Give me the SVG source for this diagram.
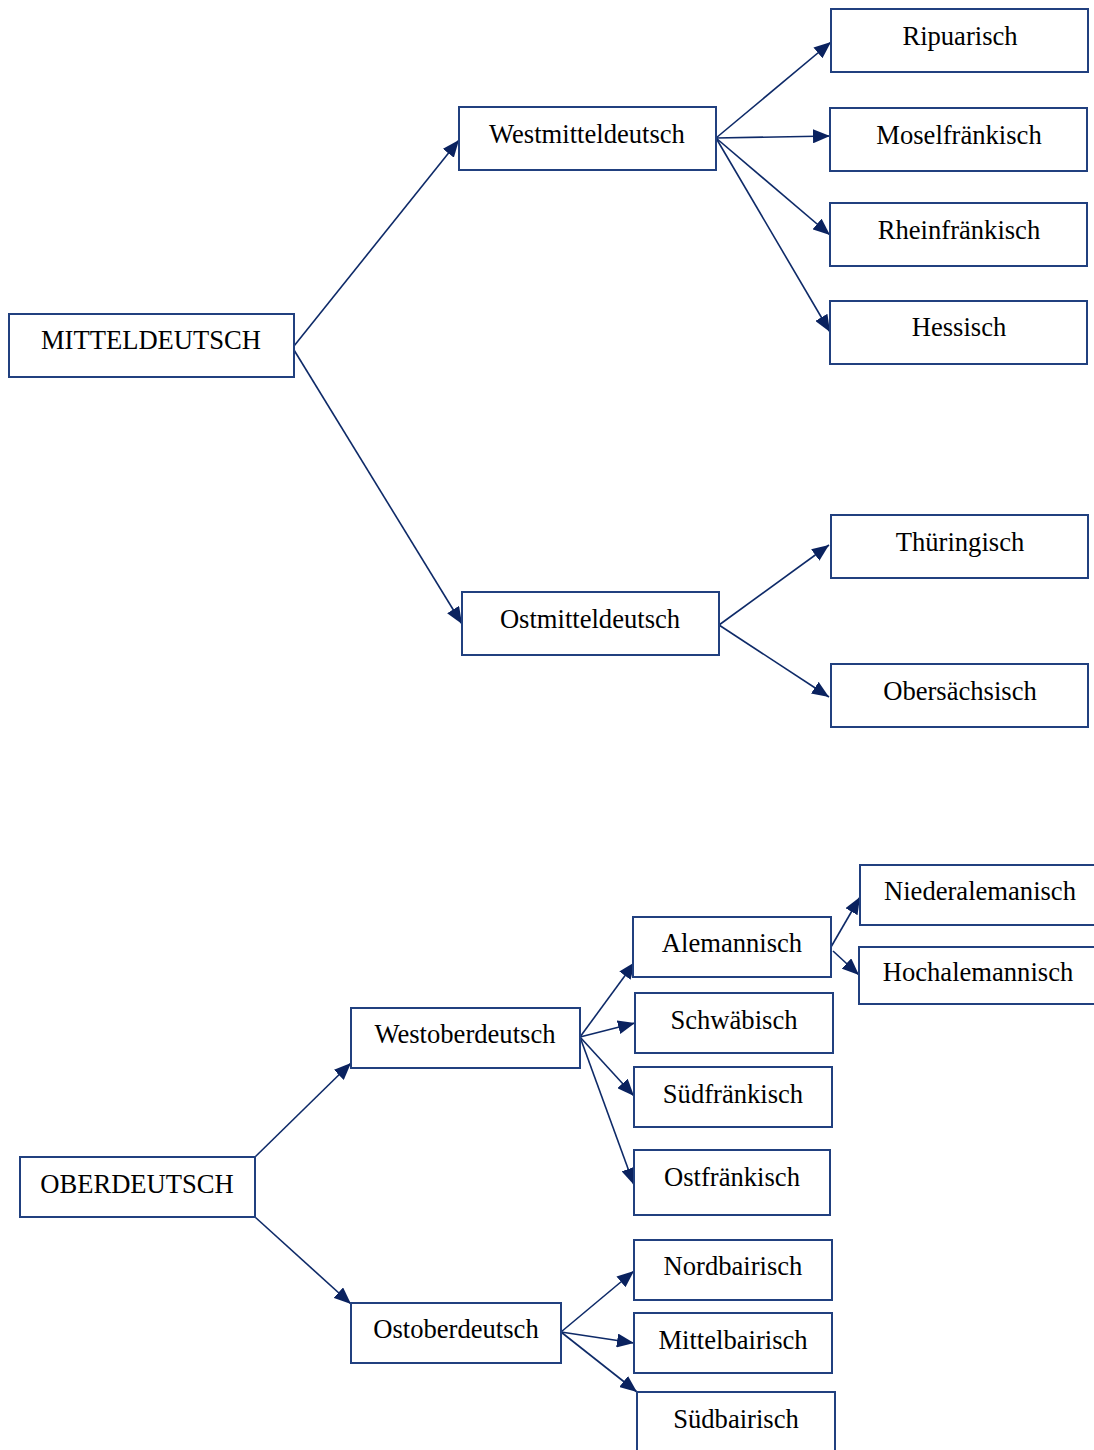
<svg xmlns="http://www.w3.org/2000/svg" width="1094" height="1450" viewBox="0 0 1094 1450">
<style>
.box{fill:#fff;stroke:#21407f;stroke-width:2}
.lbl{font-family:"Liberation Serif","Times New Roman",serif;font-size:26.6px;fill:#000;text-anchor:middle}
.ln{stroke:#0e2a68;stroke-width:1.6;fill:none;marker-end:url(#ah)}
</style>
<defs>
<marker id="ah" markerUnits="userSpaceOnUse" markerWidth="19" markerHeight="14" refX="17" refY="7" orient="auto">
<path d="M0,0 L17,7 L0,14 Z" fill="#0a225f"/>
</marker>
</defs>
<rect width="1094" height="1450" fill="#fff"/>
<g id="connectors">
<line class="ln" x1="294" y1="346" x2="459" y2="140"/>
<line class="ln" x1="294" y1="350" x2="462" y2="624"/>
<line class="ln" x1="716" y1="138" x2="831" y2="42"/>
<line class="ln" x1="716" y1="138" x2="830" y2="136"/>
<line class="ln" x1="716" y1="138" x2="830" y2="235"/>
<line class="ln" x1="716" y1="138" x2="830" y2="332"/>
<line class="ln" x1="719" y1="625" x2="829" y2="545"/>
<line class="ln" x1="719" y1="625" x2="829" y2="697"/>
<line class="ln" x1="255" y1="1157" x2="351" y2="1063"/>
<line class="ln" x1="255" y1="1217" x2="351" y2="1304"/>
<line class="ln" x1="580" y1="1037" x2="635" y2="962"/>
<line class="ln" x1="580" y1="1037" x2="635" y2="1023"/>
<line class="ln" x1="580" y1="1037" x2="634" y2="1096"/>
<line class="ln" x1="580" y1="1037" x2="634" y2="1185"/>
<line class="ln" x1="831" y1="947" x2="860" y2="897"/>
<line class="ln" x1="833" y1="951" x2="859" y2="975"/>
<line class="ln" x1="561" y1="1332" x2="634" y2="1271"/>
<line class="ln" x1="561" y1="1332" x2="634" y2="1343"/>
<line class="ln" x1="561" y1="1332" x2="637" y2="1392"/>
</g>
<g id="mitteldeutsch"><rect class="box" x="9" y="314" width="285" height="63"/><text class="lbl" x="151" y="349">MITTELDEUTSCH</text></g>
<g id="westmitteldeutsch"><rect class="box" x="459" y="107" width="257" height="63"/><text class="lbl" x="587" y="143">Westmitteldeutsch</text></g>
<g id="ostmitteldeutsch"><rect class="box" x="462" y="592" width="257" height="63"/><text class="lbl" x="590" y="628">Ostmitteldeutsch</text></g>
<g id="ripuarisch"><rect class="box" x="831" y="9" width="257" height="63"/><text class="lbl" x="960" y="45">Ripuarisch</text></g>
<g id="moselfraenkisch"><rect class="box" x="830" y="108" width="257" height="63"/><text class="lbl" x="959" y="144">Moselfränkisch</text></g>
<g id="rheinfraenkisch"><rect class="box" x="830" y="203" width="257" height="63"/><text class="lbl" x="959" y="239">Rheinfränkisch</text></g>
<g id="hessisch"><rect class="box" x="830" y="301" width="257" height="63"/><text class="lbl" x="959" y="336">Hessisch</text></g>
<g id="thueringisch"><rect class="box" x="831" y="515" width="257" height="63"/><text class="lbl" x="960" y="551">Thüringisch</text></g>
<g id="obersaechsisch"><rect class="box" x="831" y="664" width="257" height="63"/><text class="lbl" x="960" y="700">Obersächsisch</text></g>
<g id="oberdeutsch"><rect class="box" x="20" y="1157" width="235" height="60"/><text class="lbl" x="137" y="1193">OBERDEUTSCH</text></g>
<g id="westoberdeutsch"><rect class="box" x="351" y="1008" width="229" height="60"/><text class="lbl" x="465" y="1043">Westoberdeutsch</text></g>
<g id="ostoberdeutsch"><rect class="box" x="351" y="1303" width="210" height="60"/><text class="lbl" x="456" y="1338">Ostoberdeutsch</text></g>
<g id="alemannisch"><rect class="box" x="633" y="917" width="198" height="60"/><text class="lbl" x="732" y="952">Alemannisch</text></g>
<g id="schwaebisch"><rect class="box" x="635" y="993" width="198" height="60"/><text class="lbl" x="734" y="1029">Schwäbisch</text></g>
<g id="suedfraenkisch"><rect class="box" x="634" y="1067" width="198" height="60"/><text class="lbl" x="733" y="1103">Südfränkisch</text></g>
<g id="ostfraenkisch"><rect class="box" x="634" y="1150" width="196" height="65"/><text class="lbl" x="732" y="1186">Ostfränkisch</text></g>
<g id="niederalemanisch"><rect class="box" x="860" y="865" width="240" height="60"/><text class="lbl" x="980" y="900">Niederalemanisch</text></g>
<g id="hochalemannisch"><rect class="box" x="859" y="947" width="241" height="57"/><text class="lbl" x="978" y="981">Hochalemannisch</text></g>
<g id="nordbairisch"><rect class="box" x="634" y="1240" width="198" height="60"/><text class="lbl" x="733" y="1275">Nordbairisch</text></g>
<g id="mittelbairisch"><rect class="box" x="634" y="1313" width="198" height="60"/><text class="lbl" x="733" y="1349">Mittelbairisch</text></g>
<g id="suedbairisch"><rect class="box" x="637" y="1392" width="198" height="65"/><text class="lbl" x="736" y="1428">Südbairisch</text></g>
</svg>
